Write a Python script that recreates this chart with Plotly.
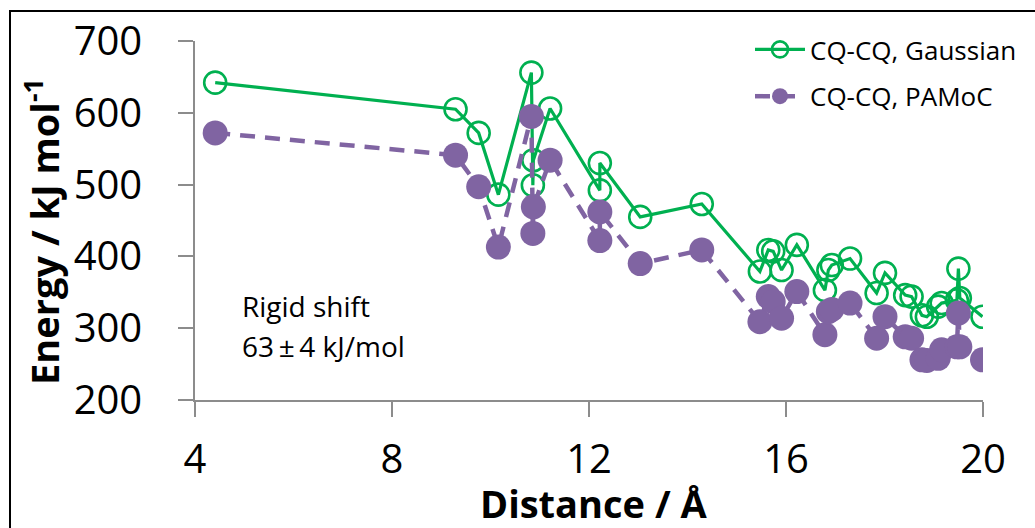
import plotly.graph_objects as go

# Distances (Å) and energies (kJ/mol)
distance = [4.41, 9.29, 9.76, 10.16, 10.83, 10.86, 10.87, 11.21, 12.22, 12.22, 13.04, 14.29,
            15.47, 15.64, 15.74, 15.91, 16.22, 16.79, 16.86, 16.93, 17.30, 17.84, 18.01,
            18.42, 18.55, 18.76, 18.86, 19.09, 19.16, 19.47, 19.50, 19.53, 19.99]
gaussian = [642, 605, 572, 486, 656, 499, 534, 606, 492, 530, 455, 473,
            379, 409, 407, 381, 416, 353, 381, 388, 397, 349, 377,
            346, 344, 318, 316, 330, 335, 339, 383, 342, 316]
pamoc = [572, 541, 497, 413, 595, 432, 469, 534, 422, 462, 390, 409,
         309, 344, 337, 314, 351, 291, 323, 326, 335, 286, 316,
         288, 286, 256, 255, 258, 270, 274, 321, 274, 256]

series_names = ["CQ-CQ, Gaussian", "CQ-CQ, PAMoC"]
x_ticks = [4, 8, 12, 16, 20]
y_ticks = [200, 300, 400, 500, 600, 700]

GREEN = "#00B050"
PURPLE = "#8064A2"
FONT = "Open Sans"

W, H = 1035, 528
L, R, T, B = 195, 52, 41, 128
pw, ph = W - L - R, H - T - B


def px(x):
    return (x - L) / pw


def py(y):
    return (H - B - y) / ph


fig = go.Figure()
fig.add_trace(go.Scatter(
    x=distance, y=gaussian, mode="lines+markers", name=series_names[0],
    legendgroup="g",
    line=dict(color=GREEN, width=3.2),
    marker=dict(symbol="circle-open", size=22, color=GREEN, line=dict(width=2.6, color=GREEN)),
))
fig.add_trace(go.Scatter(
    x=distance, y=pamoc, mode="lines+markers", name=series_names[1],
    legendgroup="p",
    line=dict(color=PURPLE, width=4.5, dash="15px,10px"),
    marker=dict(symbol="circle", size=25, color=PURPLE),
))

axis_common = dict(
    showgrid=False, zeroline=False, showline=True, linecolor="#8c8c8c", linewidth=1.5,
    ticks="outside", ticklen=15, tickwidth=1.5, tickcolor="#8c8c8c",
    tickfont=dict(family=FONT, size=40, color="#000000"),
)
fig.update_xaxes(range=[4, 20], tickvals=x_ticks, ticklabelstandoff=8, **axis_common)
fig.update_yaxes(range=[200, 700], tickvals=y_ticks, ticklabelstandoff=28, **axis_common)

fig.update_layout(
    width=W, height=H,
    margin=dict(l=L, r=R, t=T, b=B, autoexpand=False),
    paper_bgcolor="white", plot_bgcolor="white",
    font=dict(family=FONT, color="#000000"),
    showlegend=True,
    legend=dict(
        x=px(750), y=py(26), xanchor="left", yanchor="top",
        font=dict(family=FONT, size=26, color="#000000"),
        bgcolor="rgba(0,0,0,0)", tracegroupgap=10, itemwidth=50,
    ),
    annotations=[
        dict(text="Energy / kJ mol<sup>-1</sup>", textangle=-90, xref="paper", yref="paper",
             x=px(42), y=py(232), xanchor="center", yanchor="middle", showarrow=False,
             font=dict(family=FONT, size=38, weight="bold")),
        dict(text="Distance / Å", xref="paper", yref="paper",
             x=px(593), y=py(503), xanchor="center", yanchor="middle", showarrow=False,
             font=dict(family=FONT, size=38, weight="bold")),
        dict(text="Rigid shift", xref="paper", yref="paper",
             x=px(240), y=py(306), xanchor="left", yanchor="middle", showarrow=False,
             font=dict(family=FONT, size=28)),
        dict(text="63\u2009±\u20094 kJ/mol", xref="paper", yref="paper",
             x=px(240), y=py(346), xanchor="left", yanchor="middle", showarrow=False,
             font=dict(family=FONT, size=28)),
    ],
    shapes=[
        dict(type="rect", xref="paper", yref="paper",
             x0=px(10), y0=py(11), x1=px(1100), y1=py(620),
             line=dict(color="#000000", width=2), fillcolor="rgba(0,0,0,0)", layer="below"),
    ],
)

fig.write_html("out.html")
